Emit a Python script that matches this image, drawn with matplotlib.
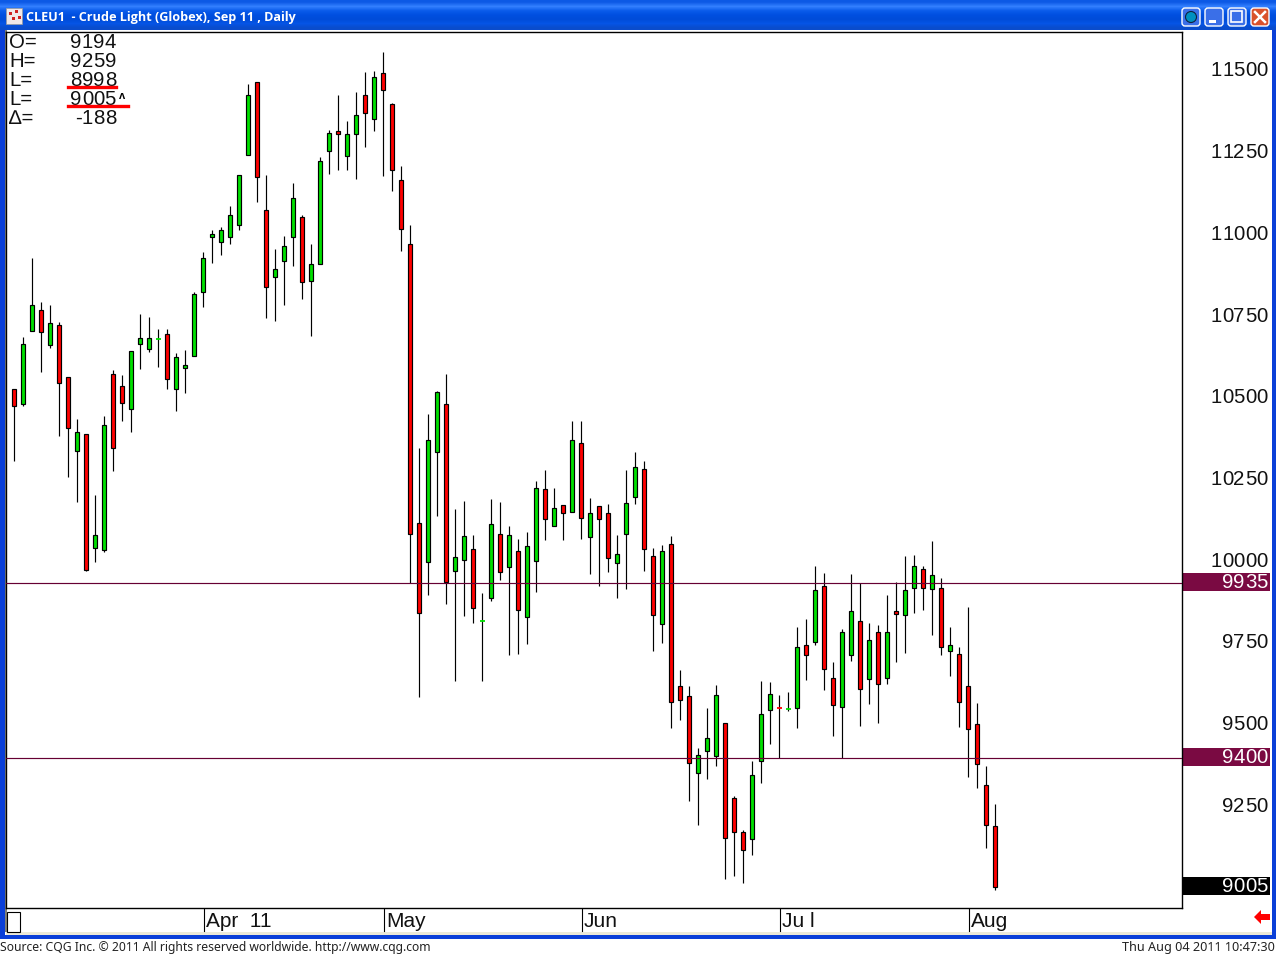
"""
CLEU1 crude light daily candles, CQG window screenshot style -> out.png
"""
import matplotlib
matplotlib.use("Agg")
import matplotlib.pyplot as plt
import matplotlib.patches as mpatches
import numpy as np

W, H = 1276, 955
FONT = "Liberation Sans"
GREEN = "#00E000"
RED = "#FF0000"
MAROON = "#660033"

opens = [10531, 10485, 10708, 10772, 10665, 10727, 10567, 10341, 10393, 10044,
         10038, 10577, 10540, 10470, 10668, 10653, 10684, 10699, 10531, 10595,
         10632, 10828, 10996, 10981, 10996, 11033, 11247, 11470, 11078, 10873,
         10922, 10996, 11057, 10861, 10913, 11259, 11320, 11244, 11311, 11430,
         11357, 11498, 11403, 11170, 10974, 10121, 10001, 10338, 10485, 9974,
         10007, 10041, 9821, 9891, 10087, 9986, 10035, 9833, 10004, 10225,
         10111, 10176, 10154, 10365, 10078, 10173, 10151, 9998, 10087, 10200,
         10286, 10020, 9812, 10056, 9622, 9591, 9356, 9423, 9408, 9509,
         9279, 9175, 9154, 9392, 9548, 9556, 9552, 9555, 9747, 9757,
         9928, 9646, 9558, 9717, 9821, 9643, 9787, 9646, 9851, 9839,
         9922, 9980, 9919, 9922, 9729, 9720, 9622, 9506, 9319, 9194]
highs = [10531, 10690, 10932, 10797, 10788, 10736, 10567, 10439, 10393, 10206,
         10448, 10589, 10574, 10647, 10760, 10751, 10714, 10714, 10641, 10650,
         10828, 10950, 11017, 11026, 11091, 11186, 11464, 11470, 11186, 10959,
         10999, 11161, 11063, 10974, 11241, 11323, 11430, 11351, 11440, 11499,
         11504, 11562, 11406, 11213, 11030, 10350, 10454, 10525, 10577, 10163,
         10188, 10084, 9906, 10194, 10185, 10111, 10072, 10093, 10249, 10283,
         10228, 10176, 10433, 10433, 10197, 10173, 10179, 10084, 10283, 10338,
         10310, 10044, 10053, 10081, 9671, 9622, 9432, 9555, 9625, 9509,
         9285, 9181, 9392, 9637, 9634, 9594, 9604, 9802, 9827, 9989,
         9968, 9695, 9796, 9965, 9937, 9815, 9809, 9900, 9940, 10020,
         10023, 9989, 10066, 9952, 9802, 9741, 9864, 9570, 9377, 9259]
lows = [10309, 10477, 10708, 10581, 10655, 10386, 10260, 10184, 9973, 10000,
        10031, 10279, 10432, 10398, 10591, 10643, 10597, 10529, 10462, 10517,
        10632, 10780, 10915, 10940, 10973, 11016, 11247, 11102, 10747, 10738,
        10787, 10906, 10805, 10692, 10913, 11187, 11200, 11200, 11172, 11270,
        11319, 11181, 11135, 10952, 9937, 9587, 9899, 10141, 9872, 9636,
        9835, 9813, 9636, 9881, 9945, 9716, 9719, 9749, 9908, 10067,
        10111, 10067, 10154, 10070, 9963, 9927, 9969, 9890, 9917, 10178,
        9973, 9728, 9752, 9492, 9517, 9269, 9195, 9336, 9376, 9030,
        9039, 9018, 9104, 9324, 9443, 9402, 9544, 9492, 9639, 9747,
        9608, 9468, 9402, 9697, 9498, 9566, 9507, 9627, 9694, 9722,
        9844, 9853, 9777, 9716, 9651, 9495, 9342, 9309, 9125, 8998]
closes = [10479, 10668, 10788, 10705, 10733, 10549, 10411, 10399, 9977, 10084,
          10421, 10350, 10488, 10647, 10687, 10687, 10684, 10561, 10629, 10604,
          10821, 10932, 11005, 11017, 11063, 11186, 11430, 11179, 10843, 10898,
          10968, 11115, 10858, 10913, 11228, 11314, 11311, 11311, 11369, 11375,
          11485, 11446, 11201, 11020, 10087, 9845, 10375, 10522, 9939, 10017,
          10081, 9861, 9821, 10118, 9971, 10084, 9854, 10050, 10228, 10133,
          10167, 10151, 10375, 10136, 10151, 10133, 10014, 10026, 10182, 10292,
          10041, 9839, 10035, 9573, 9579, 9386, 9411, 9463, 9594, 9157,
          9175, 9120, 9350, 9536, 9597, 9555, 9552, 9741, 9717, 9916,
          9674, 9564, 9787, 9851, 9613, 9763, 9628, 9787, 9842, 9916,
          9989, 9922, 9962, 9741, 9747, 9573, 9490, 9383, 9197, 9005]

price_ticks = [11500, 11250, 11000, 10750, 10500, 10250, 10000, 9750, 9500, 9250]
month_idx = [21, 41, 63, 85, 106]
month_labels = ["Apr  11", "May", "Jun", "Ju l", "Aug"]
hlines = [9935, 9400]
quote_names = ["O=", "H=", "L=", "L=", "\u2206="]
quote_values = ["9194", "9259", "8998", "9005", "-188"]

fig = plt.figure(figsize=(W / 100, H / 100), dpi=100, facecolor="white")

# ── window chrome, in pixel coordinates ─────────────────────────────────────
bg = fig.add_axes([0, 0, 1, 1], zorder=0)
bg.set_xlim(0, W)
bg.set_ylim(H, 0)
bg.axis("off")


def spaced(ax_, x_right, y, s, color="#111111", step=11.4):
    # screenshot digits sit wider apart than the font's own spacing
    for k, ch in enumerate(reversed(s)):
        ax_.text(x_right - k * step, y, ch, family=FONT, fontsize=14.7, color=color,
                 ha="right", va="center", zorder=7)


grad = np.array([[0.05, 0.35, 0.90], [0.20, 0.50, 1.00], [0.04, 0.36, 0.92],
                 [0.00, 0.31, 0.88], [0.00, 0.30, 0.85], [0.02, 0.33, 0.90],
                 [0.04, 0.30, 0.80]])[:, None, :]
bg.imshow(grad, extent=(0, W, 30, 0), aspect="auto", interpolation="bilinear")
bg.set_xlim(0, W)
bg.set_ylim(H, 0)
blue = "#0A3FD8"
bg.add_patch(mpatches.Rectangle((0, 30), 5, 908, color=blue, lw=0))
bg.add_patch(mpatches.Rectangle((5, 30), 1.5, 902, color="#808078", lw=0))
bg.add_patch(mpatches.Rectangle((W - 4, 30), 4, 908, color=blue, lw=0))
bg.add_patch(mpatches.Rectangle((0, 935), W, 4, color=blue, lw=0))
bg.add_patch(mpatches.Rectangle((6, 932), W - 10, 3, color="#ECE9D8", lw=0))

# title bar: icon, text, buttons
bg.add_patch(mpatches.Rectangle((6, 8), 16, 16, fc="#F0E8E8", ec="#999999", lw=0.5))
for px, py in [(9, 12), (15, 10), (12, 17), (18, 16)]:
    bg.add_patch(mpatches.Rectangle((px, py), 3, 3, color="#D02020", lw=0))
bg.text(26, 17, "CLEU1  - Crude Light (Globex), Sep 11 , Daily", color="white",
        family="Open Sans", fontsize=9.05, fontweight="bold", va="center")
for bx, col in [(1181, "#3A6FE8"), (1204, "#3A6FE8"), (1227, "#3A6FE8"), (1250, "#D9512C")]:
    bg.add_patch(mpatches.FancyBboxPatch((bx + 1, 8), 18, 18, boxstyle="round,pad=0,rounding_size=3",
                                         fc=col, ec="white", lw=1))
bg.add_patch(mpatches.Circle((1191, 17), 5.5, fc="#0090C0", ec="#102040", lw=0.8))
bg.add_patch(mpatches.Rectangle((1209, 20), 7, 3, color="white", lw=0))
bg.add_patch(mpatches.Rectangle((1231, 11), 11, 11, fc="none", ec="white", lw=1.2))
bg.plot([1255, 1265], [12, 22], color="white", lw=1.8)
bg.plot([1255, 1265], [22, 12], color="white", lw=1.8)

# status line
bg.text(0, 947.5, "Source: CQG Inc. \u00a9 2011 All rights reserved worldwide. http://www.cqg.com",
        family="Noto Sans", fontsize=8.75, color="#222222", va="center")
bg.text(1275, 947.5, "Thu Aug 04 2011 10:47:30", family="Noto Sans", fontsize=9.1,
        color="#222222", va="center", ha="right")

# ── price panel ─────────────────────────────────────────────────────────────
L, R, T, B = 6.0, 1182.0, 32.0, 908.0
ax = fig.add_axes([L / W, 1 - B / H, (R - L) / W, (B - T) / H], zorder=2)
px_per_bar = 9.0
px_per_unit = 0.3268
y_11500 = 71.9
ax.set_xlim((L - 14.3) / px_per_bar, (R - 14.3) / px_per_bar)
ax.set_ylim(11500 - (B - y_11500) / px_per_unit, 11500 + (y_11500 - T) / px_per_unit)
ax.set_xticks([])
ax.set_yticks([])
for s in ax.spines.values():
    s.set_linewidth(1.0)
    s.set_color("black")

x = np.arange(len(opens))
o = np.array(opens)
c = np.array(closes)
ax.vlines(x, lows, highs, color="black", lw=0.85, zorder=2)
is_doji = np.abs(c - o) < 3
up = c >= o
colors = np.where(up, GREEN, RED)
ax.bar(x[~is_doji], np.abs(c - o)[~is_doji], bottom=np.minimum(o, c)[~is_doji], width=0.44,
       color=colors[~is_doji], edgecolor="black", linewidth=0.85, zorder=3)
ax.hlines(c[is_doji], x[is_doji] - 0.28, x[is_doji] + 0.28, color=colors[is_doji], lw=1.3, zorder=3)

for level in hlines:
    ax.axhline(level, color=MAROON, lw=0.85, zorder=4)

# quote box, top left
for i, (name, val) in enumerate(zip(quote_names, quote_values)):
    yy = 42.5 + 19 * i
    fig.text(9 / W, 1 - yy / H, name, family=FONT, fontsize=14.7, color="#111111", va="center", zorder=5)
    for k, ch in enumerate(reversed(val)):
        fig.text((116 - k * 11.5) / W, 1 - yy / H, ch, family=FONT, fontsize=14.7, color="#111111",
                 va="center", ha="right", zorder=5)
fig.text(119 / W, 1 - 96 / H, "\u028c", family=FONT, fontsize=8, fontweight="bold", va="center", zorder=5)
fig.add_artist(plt.Line2D([68 / W, 116 / W], [1 - 87.5 / H] * 2, color=RED, lw=2.4, zorder=6))
fig.add_artist(plt.Line2D([68 / W, 128 / W], [1 - 106.5 / H] * 2, color=RED, lw=2.4, zorder=6))

# ── right price scale ───────────────────────────────────────────────────────
to_py = lambda v: 72.5 + (11500 - v) * px_per_unit
for p in price_ticks:
    spaced(bg, 1267.5, to_py(p) - 1.5, str(p))
for p, col in [(9935, "#7A0A42"), (9400, "#7A0A42"), (9005, "black")]:
    yy = to_py(p) - 2
    bg.add_patch(mpatches.Rectangle((1183, yy - 8.5), 87, 18, color=col, lw=0))
    spaced(bg, 1267.5, yy + 0.5, str(p), color="white")

# ── month scale under the panel ─────────────────────────────────────────────
for idx, label in zip(month_idx, month_labels):
    tx = 14.3 + px_per_bar * idx + 0.5
    bg.plot([tx, tx], [908, 931], color="black", lw=0.8)
    bg.text(tx + 2, 921, label, family=FONT, fontsize=15, color="#111111", va="center")
bg.add_patch(mpatches.Rectangle((7, 912), 12.5, 20, fc="white", ec="black", lw=0.8))

# red arrow, bottom right
bg.add_patch(mpatches.Polygon([[1254, 917], [1261, 910], [1261, 914], [1270, 914],
                               [1270, 920], [1261, 920], [1261, 924]], color=RED, lw=0))

fig.savefig("out.png", dpi=100, facecolor="white")
print("Saved out.png")
